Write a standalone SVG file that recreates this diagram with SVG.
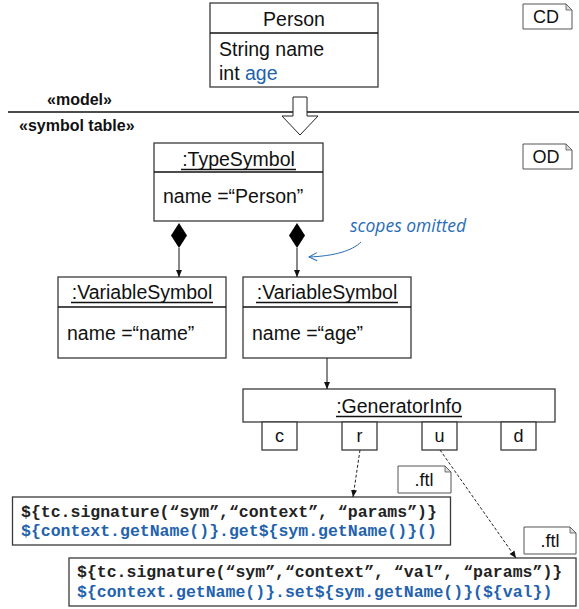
<svg xmlns="http://www.w3.org/2000/svg" width="579" height="609" viewBox="0 0 579 609">
<defs>
<style>
.box{fill:#fff;stroke:#3a3a3a;stroke-width:1.3}
.tag{fill:#fff;stroke:#555;stroke-width:1}
.fold{fill:#ddd;stroke:#555;stroke-width:0.8}
.t{font-family:"Liberation Sans",Arial,sans-serif;font-size:19.5px;fill:#111}
.tc{font-family:"Liberation Sans",Arial,sans-serif;font-size:19.5px;fill:#111;text-anchor:middle}
.tg{font-family:"Liberation Sans",Arial,sans-serif;font-size:18px;fill:#111;text-anchor:middle}
.st{font-family:"Liberation Sans",Arial,sans-serif;font-size:16px;font-weight:bold;fill:#111}
.code{font-family:"Liberation Mono","Courier New",monospace;font-size:16.5px;font-weight:bold;fill:#222}
.blue{fill:#1f62ad}
.ul{stroke:#111;stroke-width:1.3}
.ln{stroke:#111;stroke-width:1;fill:none}
.dash{stroke:#222;stroke-width:1;fill:none;stroke-dasharray:3,2}
.note{font-family:"Open Sans","DejaVu Sans",sans-serif;font-style:italic;font-size:17.5px;fill:#2a6db5}
</style>
<marker id="ah" markerWidth="8" markerHeight="8" refX="7" refY="4" orient="auto" markerUnits="userSpaceOnUse">
<path d="M0,1 L7,4 L0,7 Z" fill="#111"/>
</marker>
<marker id="oh" markerWidth="10" markerHeight="10" refX="9" refY="5" orient="auto" markerUnits="userSpaceOnUse">
<path d="M1,1 L9,5 L1,9" fill="none" stroke="#2a6db5" stroke-width="1"/>
</marker>
</defs>

<g id="person">
<rect class="box" x="210" y="3" width="168" height="84"/>
<line class="ul" x1="210" y1="33" x2="378" y2="33"/>
<text class="tc" x="294" y="26">Person</text>
<text class="t" x="219" y="56">String name</text>
<text class="t" x="219" y="80">int <tspan class="blue">age</tspan></text>
</g>

<g id="tag-cd">
<path class="tag" d="M523,4 H566 L572,10 V29 H523 Z"/>
<path class="fold" d="M566,4 L572,10 H566 Z"/>
<text class="tg" x="546" y="23">CD</text>
</g>

<g id="layers">
<text class="st" x="47" y="105">«model»</text>
<line x1="8" y1="112" x2="579" y2="112" stroke="#111" stroke-width="1.3"/>
<text class="st" x="19" y="131">«symbol table»</text>
<polygon points="293,97 307,97 307,116 318,116 300,135 282,116 293,116" fill="#fff" stroke="#222" stroke-width="1"/>
</g>

<g id="typesymbol">
<rect class="box" x="154" y="143" width="169" height="78"/>
<line class="ul" x1="154" y1="172" x2="323" y2="172"/>
<text class="tc" x="238.5" y="166">:TypeSymbol</text>
<line class="ul" x1="181" y1="169.5" x2="296" y2="169.5"/>
<text class="t" x="163" y="203">name =“Person”</text>
</g>

<g id="tag-od">
<path class="tag" d="M523,144 H566 L572,150 V169 H523 Z"/>
<path class="fold" d="M566,144 L572,150 H566 Z"/>
<text class="tg" x="546" y="163">OD</text>
</g>

<g id="varsym-name">
<rect class="box" x="58" y="277" width="168" height="81"/>
<line class="ul" x1="58" y1="307" x2="226" y2="307"/>
<text class="tc" x="142" y="299">:VariableSymbol</text>
<line class="ul" x1="71" y1="302.5" x2="213" y2="302.5"/>
<text class="t" x="67" y="340">name =“name”</text>
</g>

<g id="varsym-age">
<rect class="box" x="243" y="277" width="168" height="81"/>
<line class="ul" x1="243" y1="307" x2="411" y2="307"/>
<text class="tc" x="327" y="299">:VariableSymbol</text>
<line class="ul" x1="256" y1="302.5" x2="398" y2="302.5"/>
<text class="t" x="252" y="340">name =“age”</text>
</g>

<g id="generatorinfo">
<rect class="box" x="243" y="389" width="312" height="33"/>
<text class="tc" x="399" y="413">:GeneratorInfo</text>
<line class="ul" x1="336" y1="416.5" x2="462" y2="416.5"/>
<rect class="box" x="262" y="422" width="35" height="28"/>
<text class="tg" x="279.5" y="442">c</text>
<rect class="box" x="342" y="422" width="35" height="28"/>
<text class="tg" x="359.5" y="442">r</text>
<rect class="box" x="422" y="422" width="35" height="28"/>
<text class="tg" x="439.5" y="442">u</text>
<rect class="box" x="501" y="422" width="35" height="28"/>
<text class="tg" x="518.5" y="442">d</text>
</g>

<g id="tag-ftl1">
<path class="tag" d="M398,466 H445 L451,472 V493 H398 Z"/>
<path class="fold" d="M445,466 L451,472 H445 Z"/>
<text class="tg" x="424" y="486">.ftl</text>
</g>

<g id="tag-ftl2">
<path class="tag" d="M524,527 H570 L576,533 V554 H524 Z"/>
<path class="fold" d="M570,527 L576,533 H570 Z"/>
<text class="tg" x="550" y="547">.ftl</text>
</g>

<g id="code-get">
<rect class="box" x="12.5" y="497" width="438" height="48"/>
<text class="code" x="21" y="517">${tc.signature(“sym”,“context”, “params”)}</text>
<text class="code blue" x="21" y="536">${context.getName()}.get${sym.getName()}()</text>
</g>

<g id="code-set">
<rect class="box" x="69" y="558" width="507" height="48"/>
<text class="code" x="77" y="577">${tc.signature(“sym”,“context”, “val”, “params”)}</text>
<text class="code blue" x="77" y="597">${context.getName()}.set${sym.getName()}(${val})</text>
</g>

<g id="note">
<text class="note" x="350" y="232">scopes omitted</text>
</g>

<g id="connectors">
<path d="M179,223 L187,235.5 L179,248 L171,235.5 Z" fill="#000"/>
<line class="ln" x1="179" y1="248" x2="179" y2="277" marker-end="url(#ah)"/>
<path d="M297,223 L305,235.5 L297,248 L289,235.5 Z" fill="#000"/>
<line class="ln" x1="297" y1="248" x2="297" y2="277" marker-end="url(#ah)"/>
<path d="M361,242 C352,251 334,256 309,257" fill="none" stroke="#2a6db5" stroke-width="1" marker-end="url(#oh)"/>
<line class="ln" x1="327" y1="358" x2="327" y2="389" marker-end="url(#ah)"/>
<line class="dash" x1="360" y1="450" x2="353" y2="497" marker-end="url(#ah)"/>
<line class="dash" x1="440" y1="450" x2="516" y2="558" marker-end="url(#ah)"/>
</g>
</svg>
